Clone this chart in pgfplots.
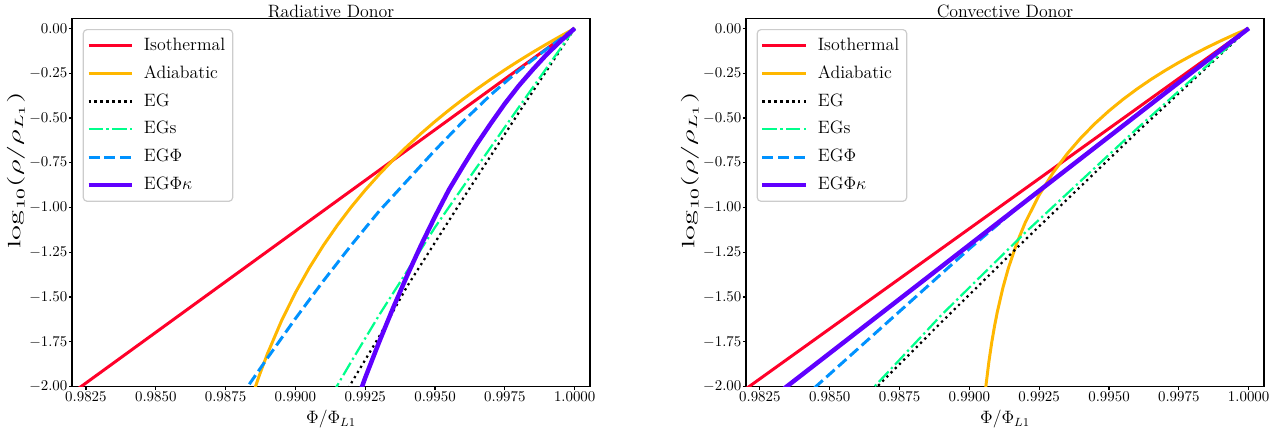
\documentclass[border=0pt]{standalone}
\usepackage{graphicx}
\usepackage{pgfplots}
\pgfplotsset{compat=1.18}

\definecolor{cIso}{RGB}{255,0,41}
\definecolor{cAdi}{RGB}{255,183,0}
\definecolor{cEGs}{RGB}{0,255,140}
\definecolor{cEGP}{RGB}{0,146,255}
\definecolor{cEGPk}{RGB}{96,0,255}

\pgfplotsset{
  panel/.style={
    scale only axis,
    width=347.7pt, height=247.2pt,
    xmin=0.9820, xmax=1.00055,
    ymin=-2, ymax=0.056,
    xtick={0.9825,0.985,0.9875,0.99,0.9925,0.995,0.9975,1},
    ytick={-2,-1.75,-1.5,-1.25,-1,-0.75,-0.5,-0.25,0},
    scaled x ticks=false,
    x tick label style={inner ysep=1.5pt, /pgf/number format/.cd, fixed, fixed zerofill, precision=4},
    y tick label style={inner xsep=0.9pt, /pgf/number format/.cd, fixed, fixed zerofill, precision=2},
    tick align=outside,
    major tick length=2pt,
    every tick/.style={black, line width=0.8pt},
    axis line style={line width=0.8pt},
    tick pos=left,
    title style={font=\large, yshift=-9pt},
    xlabel={$\Phi/\Phi_{L1}$},
    ylabel={\scalebox{1.7}[1]{$\log_{10}(\rho/\rho_{L_1})$}},
    xlabel style={font=\large},
    xlabel shift=0.5pt,
    ylabel style={font=\large, at={(ticklabel cs:0.588)}},
    ylabel shift=-1.5pt,
    legend cell align=left,
    legend image code/.code={\draw[##1] (0pt,0pt) -- (29.5pt,0pt);},
    legend style={at={(0,1)}, anchor=north west, xshift=7.2pt, yshift=-7.2pt,
      draw=black!20, rounded corners=2.5pt, line width=0.8pt, font=\large,
      inner xsep=2pt, inner ysep=1.6pt, row sep=0pt, column sep=3.2pt,
      nodes={text height=8.6pt, text depth=2.4pt, inner ysep=3.83pt, inner xsep=3pt}},
  },
  every axis plot/.append style={line join=round},
  iso/.style={cIso, line width=2pt},
  adi/.style={cAdi, line width=2pt},
  eg/.style={black, line width=1.5pt, dash pattern=on 1.5pt off 2.5pt},
  egs/.style={cEGs, line width=1.5pt, dash pattern=on 9.6pt off 2.4pt on 1.5pt off 2.4pt},
  egp/.style={cEGP, line width=2pt, dash pattern=on 7.4pt off 3.2pt},
  egpk/.style={cEGPk, line width=3pt},
}

\begin{document}
\begin{tikzpicture}
\path[use as bounding box] (-48.3pt,-30.4pt) rectangle (816.1pt,259.5pt);

% radiative donor
\begin{axis}[panel, title={Radiative Donor}]
\addplot[iso] coordinates {(1.0,0) (0.9815,-2.0928)};
\addlegendentry{Isothermal}
\addplot[adi] coordinates {
  (1.0000,0) (0.9995,-0.0427) (0.9990,-0.0871) (0.9985,-0.1332) (0.9980,-0.1812)
  (0.9975,-0.2312) (0.9970,-0.2835) (0.9965,-0.3382) (0.9960,-0.3956) (0.9955,-0.4559)
  (0.9950,-0.5195) (0.9945,-0.5867) (0.9940,-0.6581) (0.9935,-0.7341) (0.9930,-0.8153)
  (0.9925,-0.9026) (0.9920,-0.9969) (0.9915,-1.0995) (0.9910,-1.2119) (0.9905,-1.3362)
  (0.9900,-1.4753) (0.9895,-1.6331) (0.9890,-1.8156) (0.9887,-1.9404) (0.9885,-2.0318)
  (0.9882,-2.1836)};
\addlegendentry{Adiabatic}
\addplot[eg] coordinates {
  (1.000,0) (0.998,-0.47) (0.996,-0.95) (0.994,-1.44) (0.993,-1.72) (0.992,-1.98) (0.9918,-2.03)};
\addlegendentry{EG}
\addplot[egs] coordinates {
  (1.000,0) (0.998,-0.44) (0.996,-0.885) (0.995,-1.11) (0.994,-1.355) (0.993,-1.60)
  (0.992,-1.86) (0.9914,-2.02)};
\addlegendentry{EGs}
\addplot[egp] coordinates {
  (1.000,0) (0.999,-0.115) (0.998,-0.235) (0.997,-0.37) (0.996,-0.52) (0.995,-0.68)
  (0.994,-0.85) (0.993,-1.02) (0.992,-1.21) (0.991,-1.41) (0.990,-1.62) (0.989,-1.84)
  (0.9882,-2.02)};
\addlegendentry{EG$\Phi$}
\addplot[egpk] coordinates {
  (1.0000,0) (0.9995,-0.07) (0.9990,-0.145) (0.9985,-0.23) (0.9980,-0.32) (0.9975,-0.42)
  (0.9970,-0.53) (0.9965,-0.645) (0.9960,-0.77) (0.9955,-0.90) (0.9950,-1.05)
  (0.9945,-1.21) (0.9940,-1.38) (0.9935,-1.56) (0.9930,-1.75) (0.9925,-1.95) (0.9922,-2.08)};
\addlegendentry{EG$\Phi\kappa$}
\end{axis}

% convective donor
\begin{axis}[panel, title={Convective Donor}, at={(452.3pt,0pt)}]
\addplot[iso] coordinates {(1.0,0) (0.9815,-2.068)};
\addlegendentry{Isothermal}
\addplot[adi] coordinates {
  (1.0000,0) (0.9995,-0.0339) (0.9990,-0.0696) (0.9985,-0.1074) (0.9980,-0.1476)
  (0.9975,-0.1903) (0.9970,-0.2361) (0.9965,-0.2853) (0.9960,-0.3386) (0.9955,-0.3966)
  (0.9950,-0.4603) (0.9945,-0.5309) (0.9940,-0.6101) (0.9935,-0.7003) (0.9930,-0.8050)
  (0.9925,-0.9298) (0.9920,-1.0843) (0.9917,-1.1983) (0.9914,-1.3366) (0.9912,-1.4485)
  (0.9910,-1.5835) (0.9909,-1.6633) (0.9908,-1.754) (0.9907,-1.8598) (0.9906,-1.986)
  (0.9905,-2.1426)};
\addlegendentry{Adiabatic}
\addplot[eg] coordinates {
  (1.000,0) (0.996,-0.58) (0.992,-1.18) (0.989,-1.64) (0.9867,-2.0) (0.986,-2.1)};
\addlegendentry{EG}
\addplot[egs] coordinates {
  (1.000,0) (0.996,-0.56) (0.992,-1.14) (0.989,-1.60) (0.9866,-2.0) (0.986,-2.1)};
\addlegendentry{EGs}
\addplot[egp] coordinates {
  (1.000,0) (0.996,-0.48) (0.992,-0.965) (0.990,-1.23) (0.988,-1.51) (0.986,-1.79)
  (0.9845,-2.0) (0.984,-2.07)};
\addlegendentry{EG$\Phi$}
\addplot[egpk] coordinates {(1.0,0) (0.983,-2.055)};
\addlegendentry{EG$\Phi\kappa$}
\end{axis}
\end{tikzpicture}
\end{document}
